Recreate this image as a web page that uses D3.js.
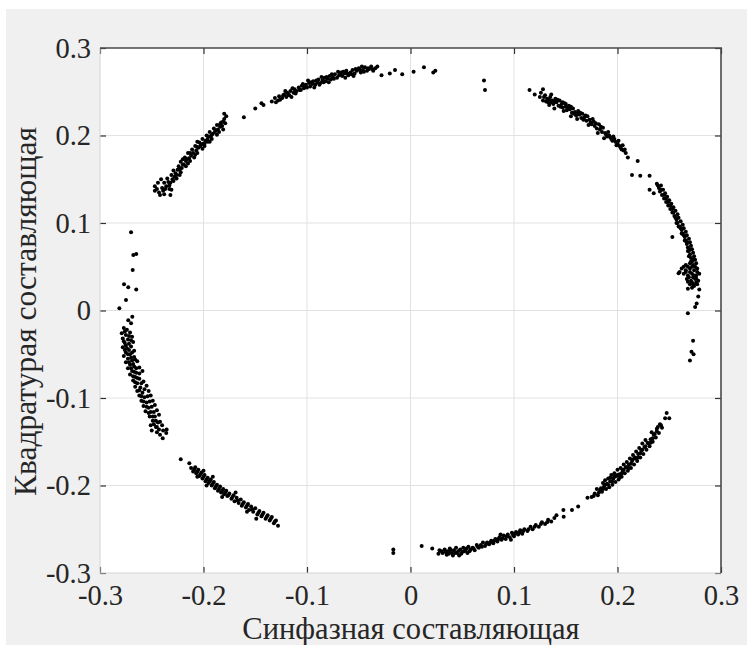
<!DOCTYPE html>
<html><head><meta charset="utf-8">
<script src="https://cdn.jsdelivr.net/npm/d3@7"></script>
<style>body{margin:0;background:#fff}svg{display:block}</style>
</head><body>
<svg id="c" width="747" height="645"></svg>
<script>
// ---- data (I / Q samples) ----
const xTicks = [-0.3, -0.2, -0.1, 0, 0.1, 0.2, 0.3];
const yTicks = [-0.3, -0.2, -0.1, 0, 0.1, 0.2, 0.3];
const tickLabels = ["-0.3", "-0.2", "-0.1", "0", "0.1", "0.2", "0.3"];
const xTitle = "Синфазная составляющая";
const yTitle = "Квадратурая составляющая";

const clusterNW = [[-0.247,0.142],[-0.243,0.135],[-0.238,0.133],[-0.240,0.140],[-0.236,0.142],[-0.238,0.146],[-0.234,0.147],[-0.233,0.143],[-0.230,0.150],[-0.235,0.151],[-0.231,0.155],[-0.228,0.153],[-0.227,0.157],[-0.229,0.160],[-0.225,0.161],[-0.222,0.158],[-0.224,0.165],[-0.221,0.163],[-0.219,0.167],[-0.222,0.170],[-0.217,0.171],[-0.215,0.168],[-0.218,0.175],[-0.214,0.174],[-0.212,0.177],[-0.215,0.180],[-0.210,0.180],[-0.208,0.178],[-0.211,0.184],[-0.207,0.183],[-0.205,0.186],[-0.208,0.188],[-0.203,0.188],[-0.201,0.185],[-0.204,0.192],[-0.200,0.191],[-0.198,0.194],[-0.201,0.196],[-0.196,0.196],[-0.194,0.193],[-0.197,0.200],[-0.193,0.199],[-0.191,0.202],[-0.194,0.204],[-0.189,0.204],[-0.187,0.201],[-0.190,0.208],[-0.186,0.207],[-0.184,0.210],[-0.187,0.212],[-0.182,0.211],[-0.181,0.207],[-0.183,0.215],[-0.179,0.214],[-0.180,0.219],[-0.178,0.222],[-0.180,0.225],[-0.226,0.151],[-0.220,0.173],[-0.213,0.171],[-0.206,0.193],[-0.199,0.188],[-0.192,0.196],[-0.231,0.138],[-0.244,0.146],[-0.241,0.150],[-0.242,0.132],[-0.232,0.132],[-0.247,0.137],
  [-0.245,0.139],[-0.239,0.137],[-0.237,0.139],[-0.233,0.139],[-0.232,0.146],[-0.229,0.148],[-0.226,0.155],[-0.223,0.155],[-0.223,0.161],[-0.220,0.167],[-0.217,0.165],[-0.216,0.173],[-0.213,0.180],[-0.209,0.175],[-0.206,0.180],[-0.206,0.187],[-0.202,0.190],[-0.199,0.191],[-0.196,0.193],[-0.195,0.199],[-0.192,0.201],[-0.188,0.206],[-0.185,0.204],[-0.184,0.213],[-0.181,0.216]];
const gapNW = [[-0.161,0.221],[-0.150,0.231],[-0.144,0.237],[-0.142,0.235]];
const clusterN = [[-0.134,0.239],[-0.131,0.243],[-0.128,0.240],[-0.127,0.245],[-0.124,0.243],[-0.122,0.247],[-0.120,0.244],[-0.119,0.249],[-0.116,0.251],[-0.117,0.246],[-0.113,0.249],[-0.112,0.253],[-0.110,0.251],[-0.108,0.255],[-0.106,0.252],[-0.105,0.257],[-0.103,0.254],[-0.101,0.258],[-0.100,0.255],[-0.098,0.260],[-0.097,0.256],[-0.095,0.259],[-0.094,0.262],[-0.092,0.258],[-0.090,0.261],[-0.089,0.264],[-0.087,0.260],[-0.085,0.263],[-0.083,0.266],[-0.082,0.262],[-0.080,0.265],[-0.078,0.268],[-0.077,0.264],[-0.075,0.267],[-0.073,0.270],[-0.071,0.266],[-0.069,0.269],[-0.067,0.272],[-0.066,0.268],[-0.064,0.271],[-0.062,0.274],[-0.060,0.269],[-0.058,0.272],[-0.056,0.275],[-0.054,0.271],[-0.052,0.274],[-0.050,0.277],[-0.048,0.272],[-0.046,0.275],[-0.044,0.278],[-0.042,0.274],[-0.040,0.276],[-0.038,0.279],[-0.036,0.274],[-0.034,0.277],[-0.032,0.279],[-0.121,0.251],[-0.115,0.244],[-0.099,0.263],[-0.093,0.255],[-0.086,0.267],[-0.079,0.261],[-0.070,0.273],[-0.063,0.266],[-0.055,0.268],[-0.047,0.279],
  [-0.130,0.238],[-0.126,0.241],[-0.123,0.246],[-0.118,0.247],[-0.114,0.254],[-0.111,0.248],[-0.107,0.252],[-0.104,0.259],[-0.102,0.256],[-0.096,0.261],[-0.091,0.263],[-0.088,0.258],[-0.084,0.261],[-0.081,0.267],[-0.076,0.270],[-0.074,0.265],[-0.068,0.270],[-0.065,0.273],[-0.061,0.271],[-0.057,0.270],[-0.053,0.276],[-0.049,0.275],[-0.045,0.273],[-0.041,0.277],[-0.037,0.276]];
const pointsTop = [[-0.028,0.269],[-0.020,0.271],[-0.015,0.275],[-0.008,0.270],[0.003,0.273],[0.013,0.278],[0.022,0.272],[0.024,0.274],[0.071,0.263],[0.072,0.252]];
const clusterNE = [[0.115,0.252],[0.120,0.247],[0.128,0.253],[0.125,0.244],[0.128,0.240],[0.130,0.246],[0.132,0.242],[0.133,0.238],[0.135,0.244],[0.137,0.240],[0.138,0.236],[0.140,0.242],[0.141,0.238],[0.143,0.234],[0.144,0.240],[0.146,0.236],[0.147,0.232],[0.149,0.237],[0.150,0.233],[0.151,0.229],[0.153,0.234],[0.154,0.230],[0.156,0.226],[0.157,0.231],[0.159,0.227],[0.160,0.223],[0.162,0.228],[0.163,0.224],[0.165,0.220],[0.166,0.225],[0.168,0.221],[0.170,0.217],[0.171,0.222],[0.173,0.218],[0.175,0.213],[0.177,0.216],[0.178,0.211],[0.180,0.208],[0.182,0.213],[0.183,0.207],[0.185,0.204],[0.186,0.209],[0.188,0.203],[0.190,0.199],[0.191,0.204],[0.193,0.198],[0.195,0.194],[0.196,0.199],[0.198,0.193],[0.199,0.189],[0.201,0.194],[0.202,0.188],[0.204,0.184],[0.205,0.189],[0.206,0.183],[0.208,0.180],[0.210,0.175],[0.139,0.231],[0.148,0.228],[0.155,0.222],[0.161,0.219],[0.172,0.212],[0.181,0.203],[0.187,0.197],[0.136,0.247],[0.134,0.235],
  [0.126,0.249],[0.129,0.244],[0.131,0.239],[0.134,0.241],[0.136,0.238],[0.139,0.239],[0.142,0.241],[0.145,0.233],[0.147,0.238],[0.150,0.236],[0.152,0.231],[0.155,0.233],[0.158,0.225],[0.161,0.225],[0.164,0.226],[0.167,0.218],[0.169,0.223],[0.174,0.215],[0.176,0.219],[0.179,0.214],[0.184,0.210],[0.189,0.201],[0.192,0.200],[0.194,0.196],[0.197,0.196],[0.200,0.191],[0.203,0.186],[0.207,0.184]];
const tailNE = [[0.2195,0.171],[0.214,0.155],[0.222,0.154],[0.231,0.154],[0.231,0.138],[0.235,0.134]];
const clusterE = [[0.238,0.145],[0.240,0.140],[0.242,0.143],[0.241,0.136],[0.244,0.138],[0.243,0.132],[0.246,0.134],[0.245,0.128],[0.248,0.130],[0.247,0.124],[0.250,0.126],[0.249,0.120],[0.252,0.122],[0.251,0.116],[0.254,0.118],[0.253,0.112],[0.256,0.114],[0.255,0.108],[0.258,0.110],[0.257,0.104],[0.259,0.106],[0.258,0.100],[0.261,0.102],[0.260,0.096],[0.263,0.098],[0.262,0.092],[0.264,0.094],[0.263,0.088],[0.266,0.090],[0.265,0.084],[0.267,0.086],[0.266,0.080],[0.269,0.082],[0.267,0.076],[0.270,0.078],[0.268,0.072],[0.271,0.074],[0.269,0.068],[0.272,0.070],[0.270,0.064],[0.273,0.066],[0.271,0.060],[0.274,0.062],[0.272,0.056],[0.275,0.058],[0.266,0.052],[0.270,0.054],[0.273,0.052],[0.276,0.054],[0.262,0.048],[0.266,0.046],[0.270,0.048],[0.274,0.046],[0.277,0.048],[0.264,0.042],[0.268,0.040],[0.272,0.042],[0.276,0.040],[0.279,0.042],[0.267,0.036],[0.271,0.034],[0.275,0.036],[0.278,0.034],[0.270,0.030],[0.274,0.028],[0.277,0.030],[0.260,0.044],[0.259,0.0425],[0.253,0.084],[0.279,0.024],
  [0.239,0.143],[0.242,0.138],[0.245,0.132],[0.247,0.128],[0.249,0.124],[0.251,0.120],[0.253,0.116],[0.254,0.112],[0.256,0.106],[0.257,0.100],[0.259,0.096],[0.261,0.094],[0.262,0.088],[0.264,0.086],[0.265,0.080],[0.267,0.078],[0.268,0.068],[0.270,0.070],[0.269,0.062],[0.271,0.056],[0.273,0.058],[0.264,0.050],[0.268,0.050],[0.272,0.050],[0.275,0.050],[0.266,0.044],[0.270,0.044],[0.274,0.040],[0.277,0.044],[0.269,0.038],[0.273,0.038],[0.276,0.037],[0.272,0.032],[0.276,0.032],[0.268,0.033],[0.273,0.030],[0.272,0.026]];
const tailE = [[0.268,0.025],[0.278,0.016],[0.2765,0.008],[0.275,0.004],[0.268,-0.003],[0.273,-0.0345],[0.2715,-0.047],[0.2735,-0.050],[0.270,-0.057]];
const clusterSE = [[0.175,-0.213],[0.178,-0.209],[0.181,-0.211],[0.183,-0.205],[0.180,-0.204],[0.185,-0.207],[0.187,-0.201],[0.186,-0.197],[0.189,-0.204],[0.190,-0.198],[0.192,-0.202],[0.193,-0.195],[0.191,-0.192],[0.195,-0.199],[0.196,-0.192],[0.198,-0.196],[0.199,-0.189],[0.197,-0.186],[0.201,-0.193],[0.202,-0.187],[0.204,-0.190],[0.205,-0.183],[0.203,-0.180],[0.207,-0.186],[0.208,-0.179],[0.210,-0.183],[0.211,-0.176],[0.209,-0.173],[0.213,-0.180],[0.214,-0.172],[0.216,-0.176],[0.217,-0.168],[0.215,-0.165],[0.219,-0.172],[0.220,-0.164],[0.222,-0.168],[0.223,-0.160],[0.221,-0.157],[0.225,-0.164],[0.226,-0.156],[0.228,-0.159],[0.229,-0.151],[0.227,-0.148],[0.231,-0.155],[0.232,-0.147],[0.234,-0.150],[0.235,-0.142],[0.233,-0.139],[0.237,-0.145],[0.238,-0.138],[0.240,-0.140],[0.239,-0.133],[0.241,-0.130],[0.243,-0.134],[0.2475,-0.117],[0.246,-0.123],[0.250,-0.123],[0.200,-0.182],[0.194,-0.188],[0.212,-0.169],[0.218,-0.161],[0.224,-0.152],[0.188,-0.194],[0.206,-0.176],[0.171,-0.214],
  [0.177,-0.212],[0.182,-0.208],[0.184,-0.203],[0.186,-0.204],[0.188,-0.199],[0.191,-0.199],[0.193,-0.191],[0.195,-0.195],[0.197,-0.190],[0.200,-0.188],[0.202,-0.191],[0.204,-0.186],[0.206,-0.182],[0.209,-0.179],[0.211,-0.180],[0.213,-0.175],[0.215,-0.170],[0.218,-0.169],[0.220,-0.168],[0.222,-0.163],[0.224,-0.159],[0.227,-0.155],[0.230,-0.152],[0.232,-0.151],[0.234,-0.146],[0.236,-0.141],[0.238,-0.135],[0.242,-0.131]];
const gapSE = [[0.1477,-0.228],[0.148,-0.2357],[0.156,-0.228],[0.162,-0.224]];
const clusterS = [[0.0108,-0.269],[0.021,-0.272],[0.027,-0.278],[0.028,-0.274],[0.031,-0.277],[0.033,-0.273],[0.035,-0.279],[0.036,-0.275],[0.038,-0.272],[0.040,-0.277],[0.041,-0.280],[0.042,-0.274],[0.044,-0.271],[0.045,-0.277],[0.047,-0.280],[0.048,-0.273],[0.050,-0.276],[0.051,-0.271],[0.053,-0.274],[0.055,-0.277],[0.056,-0.270],[0.058,-0.273],[0.060,-0.271],[0.062,-0.274],[0.064,-0.268],[0.066,-0.271],[0.068,-0.268],[0.070,-0.265],[0.072,-0.269],[0.074,-0.265],[0.076,-0.267],[0.078,-0.263],[0.080,-0.266],[0.082,-0.261],[0.084,-0.264],[0.086,-0.259],[0.088,-0.262],[0.090,-0.257],[0.092,-0.261],[0.094,-0.256],[0.096,-0.259],[0.098,-0.254],[0.100,-0.258],[0.102,-0.253],[0.104,-0.256],[0.106,-0.251],[0.108,-0.255],[0.110,-0.250],[0.113,-0.252],[0.116,-0.247],[0.118,-0.250],[0.121,-0.245],[0.124,-0.247],[0.127,-0.242],[0.130,-0.244],[0.133,-0.239],[0.136,-0.241],[0.139,-0.237],[0.141,-0.234],[0.097,-0.262],[0.087,-0.256],
  [0.030,-0.275],[0.034,-0.276],[0.037,-0.278],[0.039,-0.274],[0.043,-0.277],[0.046,-0.275],[0.049,-0.278],[0.052,-0.275],[0.054,-0.272],[0.057,-0.275],[0.061,-0.272],[0.065,-0.270],[0.069,-0.270],[0.073,-0.267],[0.077,-0.265],[0.081,-0.263],[0.085,-0.261],[0.089,-0.260],[0.093,-0.258],[0.099,-0.256],[0.101,-0.255],[0.105,-0.254],[0.109,-0.252],[0.114,-0.250],[0.120,-0.247],[0.126,-0.244],[0.132,-0.242]];
const pointsSouth = [[-0.0166,-0.273],[-0.0166,-0.277]];
const clusterSW = [[-0.222,-0.170],[-0.2137,-0.1747],[-0.212,-0.180],[-0.210,-0.184],[-0.208,-0.179],[-0.207,-0.186],[-0.205,-0.182],[-0.204,-0.189],[-0.202,-0.185],[-0.201,-0.192],[-0.199,-0.188],[-0.198,-0.195],[-0.196,-0.191],[-0.195,-0.197],[-0.193,-0.193],[-0.192,-0.200],[-0.190,-0.196],[-0.189,-0.203],[-0.187,-0.199],[-0.186,-0.206],[-0.184,-0.201],[-0.183,-0.208],[-0.181,-0.204],[-0.180,-0.210],[-0.178,-0.206],[-0.177,-0.212],[-0.175,-0.209],[-0.173,-0.215],[-0.171,-0.211],[-0.170,-0.218],[-0.168,-0.214],[-0.166,-0.220],[-0.164,-0.216],[-0.163,-0.223],[-0.161,-0.219],[-0.159,-0.225],[-0.157,-0.221],[-0.156,-0.228],[-0.154,-0.224],[-0.152,-0.230],[-0.150,-0.226],[-0.148,-0.233],[-0.146,-0.229],[-0.144,-0.235],[-0.142,-0.231],[-0.140,-0.238],[-0.138,-0.234],[-0.136,-0.240],[-0.134,-0.236],[-0.132,-0.243],[-0.130,-0.240],[-0.128,-0.246],[-0.197,-0.200],[-0.191,-0.190],[-0.182,-0.213],[-0.169,-0.208],[-0.158,-0.230],[-0.149,-0.238],[-0.206,-0.190],[-0.200,-0.183],
  [-0.209,-0.182],[-0.206,-0.184],[-0.203,-0.187],[-0.200,-0.190],[-0.197,-0.193],[-0.194,-0.195],[-0.191,-0.198],[-0.188,-0.201],[-0.185,-0.204],[-0.182,-0.206],[-0.179,-0.208],[-0.176,-0.211],[-0.172,-0.213],[-0.167,-0.217],[-0.162,-0.221],[-0.158,-0.223],[-0.153,-0.227],[-0.147,-0.231],[-0.143,-0.233],[-0.139,-0.236],[-0.135,-0.238],[-0.131,-0.241]];
const pointsW = [[-0.270,0.0894],[-0.2678,0.0634],[-0.265,0.0645],[-0.2684,0.0463],[-0.2768,0.030],[-0.2727,0.0265],[-0.265,0.024],[-0.2749,0.012],[-0.2813,0.0025],[-0.2688,-0.007],[-0.2727,-0.011],[-0.270,-0.0147]];
const clusterW = [[-0.277,-0.020],[-0.274,-0.022],[-0.279,-0.026],[-0.275,-0.028],[-0.271,-0.025],[-0.278,-0.032],[-0.273,-0.033],[-0.269,-0.030],[-0.276,-0.037],[-0.272,-0.038],[-0.268,-0.036],[-0.278,-0.042],[-0.274,-0.043],[-0.270,-0.041],[-0.267,-0.046],[-0.275,-0.048],[-0.271,-0.050],[-0.277,-0.052],[-0.267,-0.053],[-0.273,-0.055],[-0.269,-0.057],[-0.275,-0.059],[-0.264,-0.058],[-0.271,-0.062],[-0.267,-0.064],[-0.273,-0.066],[-0.262,-0.065],[-0.269,-0.069],[-0.265,-0.071],[-0.259,-0.069],[-0.271,-0.073],[-0.266,-0.076],[-0.262,-0.078],[-0.268,-0.080],[-0.264,-0.083],[-0.258,-0.081],[-0.266,-0.087],[-0.261,-0.088],[-0.255,-0.086],[-0.264,-0.092],[-0.259,-0.094],[-0.253,-0.092],[-0.262,-0.097],[-0.257,-0.099],[-0.251,-0.097],[-0.260,-0.103],[-0.255,-0.105],[-0.249,-0.103],[-0.258,-0.109],[-0.253,-0.111],[-0.247,-0.108],[-0.256,-0.115],[-0.251,-0.116],[-0.245,-0.114],[-0.252,-0.121],[-0.247,-0.121],[-0.243,-0.119],[-0.249,-0.126],[-0.244,-0.128],[-0.251,-0.131],[-0.246,-0.133],[-0.240,-0.131],[-0.245,-0.133],[-0.239,-0.137],[-0.2356,-0.136],[-0.2394,-0.146],[-0.242,-0.142],[-0.236,-0.140],[-0.245,-0.139],[-0.250,-0.137],
  [-0.276,-0.024],[-0.272,-0.029],[-0.277,-0.035],[-0.270,-0.034],[-0.275,-0.040],[-0.272,-0.045],[-0.269,-0.048],[-0.276,-0.045],[-0.273,-0.050],[-0.270,-0.054],[-0.266,-0.056],[-0.272,-0.059],[-0.268,-0.061],[-0.270,-0.066],[-0.265,-0.066],[-0.267,-0.070],[-0.262,-0.072],[-0.268,-0.075],[-0.264,-0.077],[-0.260,-0.083],[-0.266,-0.082],[-0.262,-0.091],[-0.257,-0.090],[-0.260,-0.098],[-0.254,-0.098],[-0.258,-0.104],[-0.252,-0.104],[-0.255,-0.110],[-0.250,-0.110],[-0.253,-0.117],[-0.248,-0.116],[-0.249,-0.121],[-0.246,-0.126],[-0.242,-0.127],[-0.248,-0.130],[-0.243,-0.136]];

const allPoints = [].concat(clusterNW, gapNW, clusterN, pointsTop, clusterNE, tailNE, clusterE, tailE,
  clusterSE, gapSE, clusterS, pointsSouth, clusterSW, pointsW, clusterW);

// ---- drawing ----
const W = 747, H = 645;
const L = 100, R = 721, T = 48, B = 573;
const svg = d3.select("#c");
const x = d3.scaleLinear().domain([-0.3, 0.3]).range([L, R]);
const y = d3.scaleLinear().domain([-0.3, 0.3]).range([B, T]);
const font = "'Liberation Serif','Times New Roman',serif";
const fmt = v => tickLabels[xTicks.indexOf(v)];

svg.append("rect").attr("x", 0).attr("y", 0).attr("width", W).attr("height", H).attr("fill", "#fff");
svg.append("rect").attr("x", 6).attr("y", 9).attr("width", W - 6).attr("height", H - 9).attr("fill", "#f0f0f0");
svg.append("rect").attr("x", L).attr("y", T).attr("width", R - L).attr("height", B - T).attr("fill", "#fff");

// grid
const grid = svg.append("g").attr("stroke", "#e2e2e2").attr("stroke-width", 1);
grid.selectAll(".gx").data(xTicks.slice(1, -1)).join("line")
  .attr("x1", d => x(d)).attr("x2", d => x(d)).attr("y1", T).attr("y2", B);
grid.selectAll(".gy").data(yTicks.slice(1, -1)).join("line")
  .attr("y1", d => y(d)).attr("y2", d => y(d)).attr("x1", L).attr("x2", R);

// points
svg.append("g").selectAll("circle").data(allPoints).join("circle")
  .attr("cx", d => x(d[0])).attr("cy", d => y(d[1])).attr("r", 2).attr("fill", "#000");

// axes
const styleAxis = g => {
  g.selectAll(".tick line").attr("stroke", "#333").attr("stroke-width", 1.2);
  g.selectAll("text").attr("font-family", font).attr("font-size", 28.5).attr("fill", "#262626");
  g.select(".domain").remove();
};
svg.append("g").attr("transform", `translate(0,${B})`)
  .call(d3.axisBottom(x).tickValues(xTicks).tickFormat(fmt).tickSize(-6).tickPadding(11.5)).call(styleAxis);
svg.append("g").attr("transform", `translate(${L},0)`)
  .call(d3.axisLeft(y).tickValues(yTicks).tickFormat(fmt).tickSize(-6).tickPadding(9)).call(styleAxis);
svg.append("g").attr("transform", `translate(0,${T})`)
  .call(d3.axisTop(x).tickValues(xTicks).tickFormat("").tickSize(-6)).call(styleAxis);
svg.append("g").attr("transform", `translate(${R},0)`)
  .call(d3.axisRight(y).tickValues(yTicks).tickFormat("").tickSize(-6)).call(styleAxis);

// box
svg.append("line").attr("x1", L).attr("x2", L).attr("y1", T).attr("y2", B).attr("stroke", "#d4d4d4").attr("stroke-width", 1);
svg.append("line").attr("x1", L).attr("x2", R).attr("y1", B).attr("y2", B).attr("stroke", "#d4d4d4").attr("stroke-width", 1);
svg.append("line").attr("x1", L).attr("x2", R + 1).attr("y1", T).attr("y2", T).attr("stroke", "#4a4a4a").attr("stroke-width", 1.6);
svg.append("line").attr("x1", R).attr("x2", R).attr("y1", T).attr("y2", B).attr("stroke", "#4a4a4a").attr("stroke-width", 1.6);

// titles
svg.append("text").attr("x", (L + R) / 2 + 0.5).attr("y", 638.5).attr("text-anchor", "middle")
  .attr("font-family", font).attr("font-size", 30.5).attr("fill", "#262626").text(xTitle);
svg.append("text").attr("transform", `translate(36,${(T + B) / 2 + 1}) rotate(-90)`).attr("text-anchor", "middle")
  .attr("font-family", font).attr("font-size", 31.5).attr("fill", "#262626").text(yTitle);
</script>
</body></html>
